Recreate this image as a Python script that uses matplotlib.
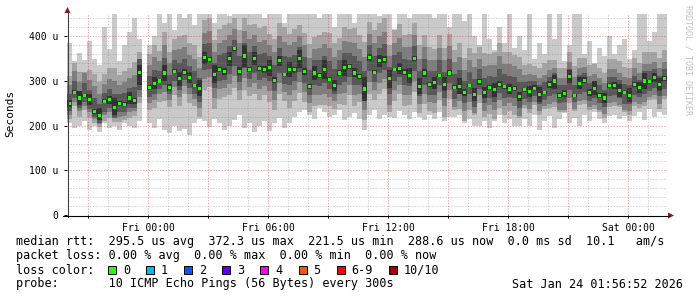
import numpy as np
import pandas as pd
import matplotlib
matplotlib.use('Agg')
import matplotlib.pyplot as plt
import matplotlib.dates as mdates
from matplotlib.ticker import MultipleLocator, FuncFormatter
from matplotlib.patches import Rectangle, Polygon
from matplotlib.lines import Line2D

nan = np.nan

# 15 minute steps over the 30 hour window (values in microseconds)
times = pd.date_range('2026-01-22 19:56:52', periods=120, freq='15min')

median = [250, 275, 262, 268, 258, 232, 222, 255, 258, 240, 250, 248, 262, 256, 320, nan,
          285, 295, 300, 318, 286, 322, 305, 320, 308, 290, 284,
          352, 348, 315, 326, 322, 350, 372, 322, 356, 326, 350, 328, 326, 330, 302, 345, 315, 326, 325, 350,
          322, 288, 318, 312, 326, 304, 290, 318, 330, 332, 318, 310, 282, 352, 320, 345, 348, 305, 326, 328,
          320, 312, 350, 288, 318,
          292, 296, 312, 293, 318, 286, 288, 275, 290, 270, 298, 274, 285, 280, 293, 287, 282, 283, 266,
          280, 277, 284, 270, 274, 293, 300, 268, 272, 310, 268, 295, 302, 275, 284, 268, 262, 290,
          290, 279, 275, 268, 292, 286, 300, 298, 308, 292, 305]

ping_max = [385, 340, 362, 318, 390, 350, 335, 420, 372, 460, 345, 380, 410, 440, 395, nan,
            380, 400, 460, 430, 470, 415, 460, 440, 470, 425, 455,
            470, 460, 430, 480, 470, 445, 470, 480, 455, 470, 460, 480, 440, 470, 475, 460, 430, 470, 480, 455,
            470, 455, 480, 440, 470, 460, 420, 475, 465, 480, 430, 470, 455, 470, 480, 445, 470, 460, 415, 475,
            470, 440, 465, 480, 455,
            470, 440, 460, 480, 420, 455, 470, 435, 460, 400, 380, 450, 395, 370, 420, 385, 460, 375, 400,
            370, 460, 350, 385, 360, 450, 395, 460, 345, 380, 470, 455, 360, 390, 340, 375, 355, 400,
            360, 380, 395, 350, 370, 470, 455, 390, 410, 465, 450]

ping_min = [205, 195, 200, 210, 190, 200, 185, 205, 195, 200, 190, 205, 200, 195, 210, nan,
            205, 195, 215, 190, 183, 200, 188, 192, 180, 205, 215,
            210, 198, 215, 205, 190, 200, 212, 225, 195, 205, 185, 200, 210, 188, 205, 218, 195, 205, 220, 230,
            235, 225, 215, 240, 230, 220, 225, 235, 212, 220, 228, 215, 190, 225, 235, 215, 225, 230, 218, 232,
            225, 215, 230, 220, 212,
            225, 215, 230, 210, 220, 235, 225, 205, 215, 228, 200, 220, 195, 210, 225, 205, 215, 200, 218,
            215, 200, 225, 190, 210, 222, 195, 215, 230, 205, 218, 200, 225, 210, 230, 215, 205, 222,
            225, 215, 235, 210, 222, 230, 212, 238, 220, 230, 225]

# distance of the inner pings below / above the median
spread2_dn = [36, 32, 42, 34, 40, 26, 24, 44, 40, 32, 42, 36, 44, 34, 70, 0,
              50, 56, 46, 62, 44, 54, 60, 48, 58, 46, 64,
              72, 62, 78, 66, 58, 82, 88, 64, 76, 60, 80, 70, 58, 78, 66, 74, 60, 86, 70, 76,
              68, 58, 74, 66, 80, 60, 52, 70, 84, 64, 74, 58, 70, 80, 62, 74, 66, 86, 70, 58, 76, 66, 74, 60, 70,
              60, 68, 54, 74, 58, 66, 50, 64, 56, 70, 48, 64, 58, 66, 54, 64, 50, 58, 66,
              40, 48, 38, 46, 36, 54, 58, 38, 44, 60, 36, 48, 54, 40, 46, 38, 44, 48,
              46, 38, 54, 44, 48, 46, 56, 40, 48, 54, 46]
spread2_up = [62, 70, 58, 78, 66, 84, 76, 60, 70, 90, 64, 74, 68, 86, 45, 0,
              76, 86, 68, 92, 80, 72, 96, 84, 76, 90, 70,
              84, 94, 76, 90, 104, 80, 68, 92, 84, 100, 78, 90, 98, 76, 92, 84, 106, 80, 92, 76,
              86, 94, 80, 92, 84, 104, 96, 78, 90, 84, 100, 92, 106, 80, 94, 84, 92, 76, 90, 100, 84, 94, 80, 92, 86,
              84, 76, 92, 80, 88, 84, 96, 76, 84, 92, 78, 88, 76, 84, 92, 78, 84, 76, 88,
              56, 62, 50, 60, 66, 54, 48, 62, 58, 54, 66, 56, 50, 60, 54, 62, 56, 60,
              60, 66, 56, 62, 60, 54, 64, 66, 56, 60, 64]
spread3_dn = [26, 22, 30, 24, 28, 18, 16, 32, 28, 22, 30, 26, 32, 24, 55, 0,
              34, 38, 30, 42, 28, 36, 40, 32, 38, 30, 44,
              48, 40, 52, 44, 38, 56, 60, 42, 50, 40, 54, 46, 38, 52, 44, 50, 40, 58, 46, 52,
              46, 38, 50, 44, 54, 40, 34, 46, 56, 42, 50, 38, 46, 54, 40, 50, 44, 58, 46, 38, 52, 44, 50, 40, 46,
              40, 46, 36, 50, 38, 44, 32, 42, 36, 46, 30, 42, 38, 44, 36, 42, 32, 38, 44,
              34, 40, 32, 38, 30, 44, 46, 32, 36, 48, 30, 40, 44, 34, 38, 32, 36, 40,
              38, 32, 44, 36, 40, 38, 46, 34, 40, 44, 38]
spread3_up = [40, 48, 36, 52, 44, 56, 50, 38, 46, 60, 42, 50, 44, 58, 30, 0,
              50, 58, 44, 62, 54, 48, 66, 56, 50, 60, 46,
              56, 64, 50, 60, 70, 54, 44, 62, 56, 68, 52, 60, 66, 50, 62, 56, 72, 54, 62, 50,
              58, 64, 54, 62, 56, 70, 64, 52, 60, 56, 68, 62, 72, 54, 64, 56, 62, 50, 60, 68, 56, 64, 54, 62, 58,
              56, 50, 62, 54, 60, 56, 66, 50, 56, 62, 52, 60, 50, 56, 62, 52, 56, 50, 60,
              34, 38, 30, 36, 40, 32, 28, 38, 34, 32, 40, 34, 30, 36, 32, 38, 34, 36,
              36, 40, 34, 38, 36, 32, 38, 40, 34, 36, 38]
spread4_dn = [18, 14, 22, 16, 20, 12, 10, 24, 18, 15, 20, 17, 22, 16, 40, 0,
              20, 25, 18, 28, 16, 22, 26, 18, 24, 20, 30,
              28, 22, 30, 25, 20, 34, 38, 24, 28, 22, 32, 26, 20, 30, 24, 28, 22, 35, 26, 30,
              26, 20, 28, 24, 30, 22, 18, 26, 32, 24, 28, 20, 26, 30, 22, 28, 24, 34, 26, 20, 30, 24, 28, 22, 26,
              24, 28, 20, 30, 22, 26, 18, 24, 20, 28, 16, 24, 22, 26, 20, 24, 18, 22, 26,
              20, 24, 18, 22, 16, 26, 28, 18, 20, 30, 16, 24, 26, 20, 22, 18, 20, 24,
              22, 18, 26, 20, 24, 22, 28, 20, 24, 26, 22]
spread4_up = [20, 24, 16, 28, 22, 30, 26, 18, 24, 32, 20, 26, 22, 30, 15, 0,
              26, 30, 22, 34, 28, 24, 36, 30, 26, 32, 22,
              30, 36, 26, 32, 40, 28, 20, 34, 30, 38, 28, 32, 36, 26, 34, 30, 42, 28, 34, 26,
              32, 36, 28, 34, 30, 40, 36, 28, 32, 30, 38, 34, 40, 28, 36, 30, 34, 26, 32, 38, 30, 36, 28, 34, 32,
              30, 26, 34, 28, 32, 30, 36, 26, 30, 34, 28, 32, 26, 30, 34, 28, 30, 26, 32,
              18, 22, 16, 20, 24, 16, 14, 22, 20, 16, 24, 18, 16, 20, 16, 22, 18, 20,
              20, 24, 18, 22, 20, 16, 22, 24, 18, 20, 22]
spread5 = [8, 5, 16, 4, 12, 6, 18, 5, 9, 22, 6, 4, 14, 7, 30, 0,
           6, 14, 4, 18, 8, 5, 16, 7, 12, 4, 18,
           14, 6, 20, 5, 8, 16, 4, 9, 24, 6, 14, 5, 8, 18, 6, 12, 4, 16, 7, 20,
           8, 5, 16, 6, 22, 4, 12, 7, 18, 5, 10, 6, 26, 8, 5, 14, 7, 20, 4, 12, 6, 16, 5, 18, 8,
           6, 14, 4, 16, 7, 5, 18, 8, 4, 14, 6, 12, 5, 16, 7, 4, 12, 6, 10,
           5, 12, 6, 16, 4, 8, 18, 5, 7, 14, 4, 14, 6, 8, 16, 5, 12, 6,
           7, 14, 5, 16, 6, 12, 18, 5, 10, 14, 6]

smoke_colors = ['#cacaca', '#a4a4a4', '#7e7e7e', '#585858', '#323232']
loss_labels = ['0', '1', '2', '3', '4', '5', '6-9', '10/10']
loss_colors = ['#26ff00', '#00b8ff', '#0059ff', '#5e00ff', '#ff00f5', '#ff5500', '#ff0000', '#a80000']

legend_rows = [
    'median rtt:  295.5 us avg  372.3 us max  221.5 us min  288.6 us now  0.0 ms sd  10.1   am/s',
    'packet loss: 0.00 % avg  0.00 % max  0.00 % min  0.00 % now',
    'loss color:',
    'probe:       10 ICMP Echo Pings (56 Bytes) every 300s',
]
stamp = 'Sat Jan 24 01:56:52 2026'

plt.rcParams['font.family'] = ['DejaVu Sans Mono']

W, H = 697, 297


def fpt(x, y):
    # pixel position (top-left origin) -> figure fraction
    return x / W, 1 - y / H


fig = plt.figure(figsize=(W / 100, H / 100), dpi=100)
fig.patch.set_facecolor('white')
ax = fig.add_axes([67 / W, (H - 215) / H, 600 / W, 201 / H])

# ten sorted pings per step
med = np.array(median, dtype=float)
pings = np.vstack([
    np.array(ping_min, dtype=float),
    med - np.array(spread2_dn),
    med - np.array(spread3_dn),
    med - np.array(spread4_dn),
    med - np.array(spread5),
    med + np.array(spread5),
    med + np.array(spread4_up),
    med + np.array(spread3_up),
    med + np.array(spread2_up),
    np.array(ping_max, dtype=float),
])
pings = np.sort(pings, axis=0)

t = mdates.date2num(times)
dt = 15 / (24 * 60)
xs = np.column_stack([t, t + dt]).ravel()

for k, col in enumerate(smoke_colors):
    ax.fill_between(xs, np.repeat(pings[k], 2), np.repeat(pings[9 - k], 2),
                    color=col, linewidth=0, antialiased=False, zorder=1)

ax.bar(t + dt / 2, 7, bottom=med - 3.5, width=dt * 0.42, color=loss_colors[0],
       linewidth=0, zorder=3)

ax.set_xlim(t[0], t[-1] + dt)
ax.set_ylim(0, 450)

ax.xaxis.set_major_locator(mdates.HourLocator(byhour=range(0, 24, 3)))
ax.xaxis.set_minor_locator(mdates.HourLocator())


def fmt_time(v, pos):
    d = mdates.num2date(v)
    return d.strftime('%a %H:%M') if d.hour % 6 == 0 else ''


ax.xaxis.set_major_formatter(FuncFormatter(fmt_time))
ax.yaxis.set_major_locator(MultipleLocator(100))
ax.yaxis.set_minor_locator(MultipleLocator(20))
ax.yaxis.set_major_formatter(FuncFormatter(lambda v, pos: '0' if v == 0 else f'{v:.0f} u'))

ax.set_axisbelow(False)
ax.grid(True, which='minor', color='#808080', alpha=0.35, linestyle=(0, (1.4, 1.4)), linewidth=0.72)
ax.grid(True, which='major', color='#cc3333', alpha=0.4, linestyle=(0, (1.4, 1.4)), linewidth=0.72)

ax.tick_params(which='major', length=2, width=0.7, labelsize=7, colors='black', pad=4)
ax.tick_params(which='minor', length=0)
for s in ax.spines.values():
    s.set_visible(False)
ax.set_facecolor('white')

# axes with arrows
fig.add_artist(Line2D([67.5 / W] * 2, [1 - 217 / H, 1 - 12 / H], color='#404040', linewidth=0.8))
fig.add_artist(Line2D([63 / W, 669 / W], [1 - 215.5 / H] * 2, color='black', linewidth=0.8))
fig.add_artist(Polygon([fpt(64.5, 13), fpt(70.5, 13), fpt(67.5, 7)], closed=True,
                       facecolor='#8b1a1a', edgecolor='none', transform=fig.transFigure))
fig.add_artist(Polygon([fpt(668, 212.5), fpt(668, 218.5), fpt(674, 215.5)], closed=True,
                       facecolor='#8b1a1a', edgecolor='none', transform=fig.transFigure))

fig.text(*fpt(10, 113), 'Seconds', rotation=90, ha='center', va='center', fontsize=8)
fig.text(*fpt(688, 60), 'RRDTOOL / TOBI OETIKER', rotation=270, ha='center', va='center',
         fontsize=6, color='#c0c0c0')

# legend block
for i, row in enumerate(legend_rows):
    fig.text(*fpt(16, 245.5 + 14 * i), row, ha='left', va='baseline', fontsize=8.5)
fig.text(*fpt(683, 287.5), stamp, ha='right', va='baseline', fontsize=8.5)

cw = 7.1
x = 108
for lab, col in zip(loss_labels, loss_colors):
    fig.add_artist(Rectangle(fpt(x, 273.5), 8 / W, 8 / H, facecolor=col, edgecolor='black',
                             linewidth=0.7, transform=fig.transFigure))
    fig.text(*fpt(x + 15, 273.5), lab, ha='left', va='baseline', fontsize=8.5)
    x = x + 15 + len(lab) * cw + 16

fig.savefig('out.png', dpi=100)
